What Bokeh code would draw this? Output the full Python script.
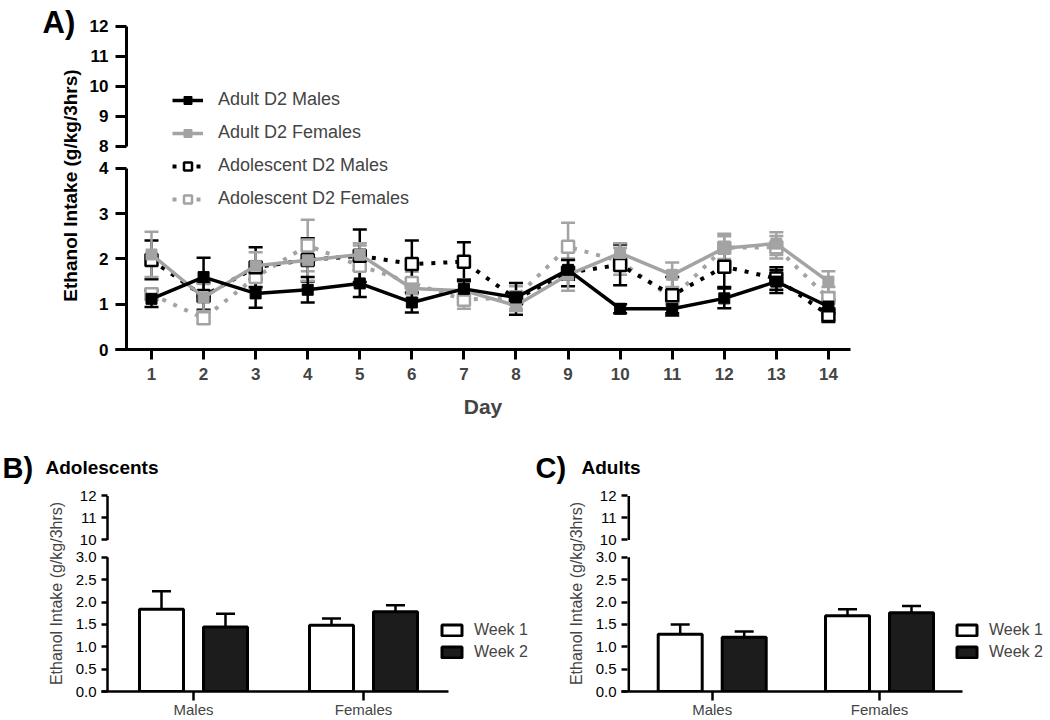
import numpy as np
from bokeh.plotting import figure
from bokeh.models import (Range1d, FixedTicker, Legend, LegendItem, Whisker,
                          ColumnDataSource, TeeHead)
from bokeh.layouts import column, row
from bokeh.core.properties import value
from bokeh.embed import file_html
from bokeh.resources import INLINE

FONT = "Liberation Sans"
GRAY = "#a3a3a3"
BLACK = "#000000"
DARK = "#1c1c1c"

# ---------------- data ----------------
days = list(range(1, 15))
adult_males = [1.12, 1.60, 1.24, 1.32, 1.46, 1.04, 1.34, 1.15, 1.76, 0.90, 0.90, 1.13, 1.50, 0.95]
adult_males_sem = [0.18, 0.43, 0.32, 0.28, 0.30, 0.22, 0.20, 0.12, 0.22, 0.10, 0.15, 0.22, 0.25, 0.15]
adult_females = [2.10, 1.15, 1.85, 1.97, 2.10, 1.35, 1.30, 0.97, 1.65, 2.13, 1.65, 2.24, 2.34, 1.50]
adult_females_sem = [0.50, 0.30, 0.30, 0.45, 0.25, 0.22, 0.25, 0.12, 0.35, 0.22, 0.27, 0.32, 0.25, 0.23]
adol_males = [1.98, 1.18, 1.82, 1.98, 2.07, 1.89, 1.94, 1.12, 1.70, 1.87, 1.20, 1.83, 1.57, 0.76]
adol_males_sem = [0.43, 0.30, 0.44, 0.48, 0.58, 0.52, 0.43, 0.35, 0.30, 0.45, 0.40, 0.45, 0.25, 0.15]
adol_females = [1.22, 0.69, 1.60, 2.30, 1.85, 1.47, 1.10, 1.15, 2.27, 1.95, 1.13, 2.25, 2.26, 1.13]
adol_females_sem = [0.12, 0.12, 0.25, 0.57, 0.45, 0.25, 0.20, 0.25, 0.53, 0.30, 0.15, 0.25, 0.25, 0.25]
series_names = ["Adult D2 Males", "Adult D2 Females", "Adolescent D2 Males", "Adolescent D2 Females"]

sexes = ["Males", "Females"]
weeks = ["Week 1", "Week 2"]
adol_week1 = [1.84, 1.48]
adol_week1_sem = [0.40, 0.15]
adol_week2 = [1.44, 1.78]
adol_week2_sem = [0.30, 0.15]
adult_week1 = [1.28, 1.69]
adult_week1_sem = [0.22, 0.15]
adult_week2 = [1.21, 1.76]
adult_week2_sem = [0.13, 0.15]

A_low_ticks = [0, 1, 2, 3, 4]
A_high_ticks = [8, 9, 10, 11, 12]
BC_low_ticks = [0.0, 0.5, 1.0, 1.5, 2.0, 2.5, 3.0]
BC_high_ticks = [10, 11, 12]
ylabel = "Ethanol Intake (g/kg/3hrs)"
panel_titles = [("A)", ""), ("B)", "Adolescents"), ("C)", "Adults")]


def broken_map(low_max, gap_px, ppu_low, ppu_high, high_min):
    def f(v):
        if v <= low_max:
            return v
        return round(low_max + gap_px / ppu_low + (v - high_min) * ppu_high / ppu_low, 4)
    return f


def style_left_axis(ax, lows, highs, fmap, fmt, size, bold, tick_in, standoff):
    pos = [fmap(v) for v in lows] + [fmap(v) for v in highs]
    labs = [fmt(v) for v in lows] + [str(v) for v in highs]
    ax.ticker = FixedTicker(ticks=pos)
    ax.major_label_overrides = {p: l for p, l in zip(pos, labs)}
    ax.axis_line_color = None
    ax.major_tick_in = tick_in
    ax.major_tick_out = 0
    ax.major_tick_line_width = 3
    ax.major_tick_line_color = BLACK
    ax.minor_tick_line_color = None
    ax.major_label_text_font = FONT
    ax.major_label_text_font_size = size
    ax.major_label_text_font_style = "bold" if bold else "normal"
    ax.major_label_text_color = BLACK
    ax.major_label_standoff = standoff


def text_fig(w, h):
    f = figure(width=w, height=h, x_range=Range1d(0, w), y_range=Range1d(0, h),
               x_axis_type=None, y_axis_type=None, min_border=0, frame_align=False,
               output_backend="svg", toolbar_location=None)
    f.outline_line_color = None
    return f


# ---------------- panel A ----------------
H_A = 430
LEFT_A_W = 86
PX_DAY = 52.07
A_FRAME_W = 735
A_X0 = 1 - 36 / PX_DAY
A_X1 = A_X0 + A_FRAME_W / PX_DAY
A_YAXIS_X = 1 - 25 / PX_DAY
A_PPU = 45.25
A_YTOP = 7.16
A_FRAME_H = round(A_YTOP * A_PPU)
A_TOP = 25
A_LB = 115 - LEFT_A_W
amap = broken_map(A_low_ticks[-1], 22, A_PPU, 30, A_high_ticks[0])

left_a = text_fig(LEFT_A_W, H_A)
left_a.text(x=[42], y=[H_A - 22], text=[panel_titles[0][0]], text_font=value(FONT),
            text_font_size="31px", text_font_style="bold",
            text_baseline="middle", text_align="left")
left_a.text(x=[70], y=[H_A - 185], text=[ylabel], angle=np.pi / 2, text_font=value(FONT),
            text_font_size="19px", text_font_style="bold",
            text_baseline="middle", text_align="center")

pa = figure(width=A_LB + A_FRAME_W + 40, height=H_A,
            x_range=Range1d(A_X0, A_X1), y_range=Range1d(0, A_YTOP),
            min_border_left=A_LB, min_border_right=40, min_border_top=A_TOP,
            min_border_bottom=H_A - A_TOP - A_FRAME_H, frame_align=False,
            output_backend="svg", toolbar_location=None)
pa.outline_line_color = None
pa.grid.visible = False

style_left_axis(pa.yaxis[0], A_low_ticks, A_high_ticks, amap, lambda v: str(v), "17px", True, 11, 7)

xa = pa.xaxis[0]
xa.ticker = FixedTicker(ticks=days)
xa.axis_line_width = 3
xa.major_tick_line_width = 3
xa.major_tick_out = 10
xa.major_tick_in = 0
xa.minor_tick_line_color = None
xa.major_label_text_font = FONT
xa.major_label_text_font_size = "17px"
xa.major_label_text_font_style = "bold"
xa.major_label_standoff = 8
xa.axis_label = "Day"
xa.axis_label_text_font = FONT
xa.axis_label_text_font_size = "21px"
xa.axis_label_text_font_style = "bold"
xa.axis_label_standoff = 12

# broken y-axis line
pa.segment(x0=[A_YAXIS_X, A_YAXIS_X], x1=[A_YAXIS_X, A_YAXIS_X],
           y0=[A_low_ticks[0], amap(A_high_ticks[0])], y1=[A_low_ticks[-1], amap(A_high_ticks[-1])],
           line_width=3, line_color=BLACK)

series = [
    (adol_females, adol_females_sem, GRAY, "4 8", False),
    (adol_males, adol_males_sem, BLACK, "4 8", False),
    (adult_females, adult_females_sem, GRAY, "solid", True),
    (adult_males, adult_males_sem, BLACK, "solid", True),
]
names_in_order = [series_names[3], series_names[2], series_names[1], series_names[0]]
rend = {}
for (vals, sem, col, dash, filled), name in zip(series, names_in_order):
    v = np.array(vals)
    s = np.array(sem)
    src = ColumnDataSource(dict(x=days, y=v, lo=v - s, hi=v + s))
    pa.add_layout(Whisker(base="x", upper="hi", lower="lo", source=src, dimension="height",
                          line_color=col, line_width=2.5,
                          upper_head=TeeHead(size=14, line_color=col, line_width=2.5),
                          lower_head=TeeHead(size=14, line_color=col, line_width=2.5)))
    lr = pa.line("x", "y", source=src, line_color=col, line_width=4 if dash != "solid" else 3.5,
                 line_dash=dash)
    if filled:
        sr = pa.scatter("x", "y", source=src, marker="square", size=11,
                        fill_color=col, line_color=col, line_width=1)
    else:
        sr = pa.scatter("x", "y", source=src, marker="square", size=12,
                        fill_color="white", line_color=col, line_width=2.5)
    rend[name] = [lr, sr]

leg_a = Legend(items=[LegendItem(label=n, renderers=rend[n]) for n in series_names],
               location=(57, 140), orientation="vertical",
               glyph_width=31, glyph_height=20, label_height=20, spacing=12,
               padding=0, margin=0, label_standoff=15,
               border_line_color=None, background_fill_alpha=0,
               label_text_font=FONT, label_text_font_size="18px")
pa.add_layout(leg_a)

# ---------------- header for B and C ----------------
H_HEAD = 56
head = text_fig(1050, H_HEAD)
HEAD_Y = 467 - H_A
for (letter, title), lx, tx in [(panel_titles[1], 2, 45), (panel_titles[2], 535, 581)]:
    head.text(x=[lx], y=[H_HEAD - HEAD_Y], text=[letter], text_font=value(FONT),
              text_font_size="29px", text_font_style="bold",
              text_baseline="middle", text_align="left")
    head.text(x=[tx], y=[H_HEAD - HEAD_Y], text=[title], text_font=value(FONT),
              text_font_size="19px", text_font_style="bold",
              text_baseline="middle", text_align="left")

# ---------------- panels B and C ----------------
BC_PPU = 45
BC_YTOP = 4.38
BC_FRAME_H = round(BC_YTOP * BC_PPU)
BC_TOP, BC_BOTTOM = 9, 28
bmap = broken_map(BC_low_ticks[-1], 17.4, BC_PPU, 22.15, BC_high_ticks[0])


def bar_panel(w1, w1e, w2, w2e, width, px_cat, left_px, axis_right_px, yaxis_px, lb_left, leg_x):
    lb_right = 5
    fw = width - lb_left - lb_right
    x0 = -left_px / px_cat
    x1 = x0 + fw / px_cat
    p = figure(width=width, height=BC_TOP + BC_FRAME_H + BC_BOTTOM,
               x_range=Range1d(x0, x1), y_range=Range1d(0, BC_YTOP),
               min_border_left=lb_left, min_border_right=lb_right,
               min_border_top=BC_TOP, min_border_bottom=BC_BOTTOM, frame_align=False,
               output_backend="svg", toolbar_location=None)
    p.outline_line_color = None
    p.grid.visible = False
    style_left_axis(p.yaxis[0], BC_low_ticks, BC_high_ticks, bmap, lambda v: f"{v:.1f}",
                    "15px", False, 6, 5)
    p.yaxis.major_tick_line_width = 2.5
    p.yaxis.axis_label = ylabel
    p.yaxis.axis_label_text_font = FONT
    p.yaxis.axis_label_text_font_size = "16px"
    p.yaxis.axis_label_text_font_style = "normal"
    p.yaxis.axis_label_standoff = 8

    xs = np.arange(len(sexes))
    ax = p.xaxis[0]
    ax.bounds = (x0, len(sexes) - 1 + axis_right_px / px_cat)
    ax.ticker = FixedTicker(ticks=list(xs))
    ax.major_label_overrides = {int(i): s for i, s in zip(xs, sexes)}
    ax.axis_line_width = 2.5
    ax.major_tick_line_width = 2.5
    ax.major_tick_out = 9
    ax.major_tick_in = 0
    ax.minor_tick_line_color = None
    ax.major_label_text_font = FONT
    ax.major_label_text_font_size = "15px"
    ax.major_label_standoff = 0

    yx = -yaxis_px / px_cat
    p.segment(x0=[yx, yx], x1=[yx, yx],
              y0=[BC_low_ticks[0], bmap(BC_high_ticks[0])],
              y1=[BC_low_ticks[-1], bmap(BC_high_ticks[-1])],
              line_width=2.5, line_color=BLACK)

    off = 32 / px_cat
    bw = 44 / px_cat
    items = []
    for vals, errs, fill, sgn, wk in [(w1, w1e, "white", -1, weeks[0]), (w2, w2e, DARK, 1, weeks[1])]:
        v = np.array(vals)
        e = np.array(errs)
        src = ColumnDataSource(dict(x=xs + sgn * off, y=v, hi=v + e))
        p.add_layout(Whisker(base="x", upper="hi", lower="y", source=src, dimension="height",
                             line_color=BLACK, line_width=2.5,
                             upper_head=TeeHead(size=19, line_color=BLACK, line_width=2.5),
                             lower_head=None))
        r = p.vbar(x="x", top="y", bottom=0, width=bw, source=src,
                   fill_color=fill, line_color=BLACK, line_width=3)
        items.append(LegendItem(label=wk, renderers=[r]))
    leg = Legend(items=items, location=(leg_x, 30), orientation="vertical",
                 glyph_width=25, glyph_height=14, label_height=18, spacing=4,
                 padding=0, margin=0, label_standoff=10,
                 border_line_color=None, background_fill_alpha=0,
                 label_text_font=FONT, label_text_font_size="16px")
    p.add_layout(leg)
    return p


pb = bar_panel(adol_week1, adol_week1_sem, adol_week2, adol_week2_sem,
               540, 170, 92, 85, 86, 101, 338)
pc = bar_panel(adult_week1, adult_week1_sem, adult_week2, adult_week2_sem,
               510, 167.3, 90.7, 82.7, 83.4, 81, 333)

layout = column(row(left_a, pa), head, row(pb, pc))
open("out.html", "w").write(file_html(layout, INLINE))
